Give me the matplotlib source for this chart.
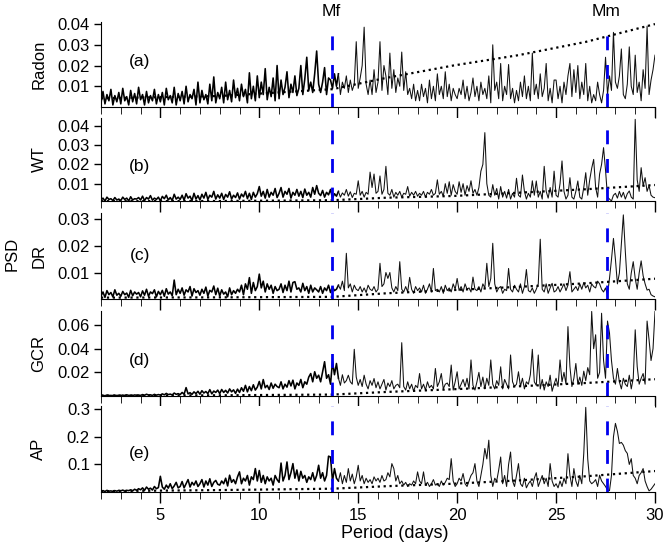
import numpy as np
import matplotlib.pyplot as plt
from matplotlib.transforms import blended_transform_factory

plt.rcParams['font.family'] = ['Liberation Sans', 'DejaVu Sans']

# period grid (days), 0.1 day steps from 2 to 30
period = np.round(np.arange(2.0, 30.05, 0.1), 1)

# PSD values, one row per day (x.0 ... x.9)
# radon, wt, dr, gcr in units of 1e-4 ; ap in units of 1e-3
radon = [
    20, 75, 15, 60, 30, 85, 10, 55, 25, 70,
    15, 90, 30, 50, 10, 80, 25, 65, 15, 95,
    35, 60, 10, 75, 20, 55, 30, 85, 15, 60,
    25, 70, 10, 90, 35, 55, 20, 95, 10, 65,
    30, 75, 15, 100, 25, 60, 40, 85, 10, 120,
    20, 80, 35, 60, 15, 110, 30, 145, 20, 70,
    40, 95, 20, 120, 35, 80, 25, 130, 45, 90,
    30, 110, 50, 85, 20, 165, 40, 100, 30, 150,
    45, 120, 60, 185, 35, 95, 50, 140, 30, 200,
    40, 130, 60, 95, 170, 45, 110, 70, 150, 55,
    90, 200, 60, 135, 240, 80, 120, 70, 160, 270,
    110, 70, 120, 190, 60, 140, 130, 90, 160, 100,
    160, 60, 120, 90, 150, 70, 130, 80, 110, 315,
    90, 140, 200, 385, 110, 60, 130, 60, 180, 70,
    120, 315, 80, 200, 150, 60, 260, 90, 180, 70,
    140, 100, 265, 80, 170, 60, 90, 40, 110, 30,
    80, 30, 110, 50, 90, 20, 130, 40, 100, 30,
    160, 60, 100, 40, 170, 50, 110, 30, 90, 60,
    40, 90, 60, 130, 40, 100, 30, 70, 140, 50,
    100, 30, 120, 60, 90, 40, 150, 20, 300, 80,
    120, 40, 210, 30, 100, 60, 205, 40, 90, 20,
    80, 30, 120, 50, 150, 40, 100, 30, 260, 60,
    110, 40, 160, 50, 90, 210, 30, 90, 20, 130,
    130, 40, 100, 20, 120, 60, 150, 210, 50, 180,
    70, 200, 40, 120, 60, 210, 30, 100, 20, 60,
    30, 120, 60, 20, 80, 240, 60, 150, 80, 360,
    120, 90, 150, 280, 60, 40, 110, 290, 100, 60,
    250, 70, 120, 30, 180, 90, 390, 60, 130, 180,
    250,
]

wt = [
    15, 25, 10, 30, 18, 22, 12, 28, 15, 20,
    12, 30, 18, 25, 10, 32, 15, 22, 20, 28,
    15, 35, 12, 28, 20, 38, 14, 25, 18, 30,
    10, 34, 22, 40, 15, 28, 12, 45, 20, 30,
    18, 40, 14, 48, 25, 35, 12, 50, 20, 38,
    15, 45, 25, 55, 18, 40, 30, 60, 20, 42,
    25, 50, 18, 44, 30, 58, 20, 40, 28, 52,
    20, 46, 32, 60, 22, 50, 18, 55, 30, 48,
    85, 35, 60, 25, 70, 30, 55, 40, 75, 28,
    50, 80, 30, 60, 45, 75, 25, 55, 40, 70,
    35, 60, 28, 72, 40, 55, 30, 80, 45, 90,
    50, 38, 65, 30, 55, 42, 70, 25, 48, 35,
    60, 30, 52, 40, 70, 35, 58, 28, 50, 45,
    115, 40, 60, 30, 55, 45, 160, 80, 150, 50,
    60, 140, 45, 70, 190, 50, 40, 70, 30, 55,
    40, 60, 30, 50, 45, 85, 35, 55, 40, 60,
    35, 50, 40, 60, 30, 55, 45, 70, 40, 50,
    120, 45, 60, 35, 100, 50, 110, 40, 95, 60,
    45, 110, 55, 100, 40, 90, 60, 115, 50, 70,
    40, 80, 165, 200, 365, 100, 40, 30, 95, 40,
    75, 20, 85, 30, 60, 25, 70, 20, 50, 30,
    128, 40, 30, 145, 60, 20, 50, 30, 115, 40,
    114, 30, 60, 20, 190, 60, 25, 80, 30, 165,
    40, 30, 100, 218, 60, 20, 40, 131, 30, 20,
    60, 114, 30, 20, 80, 157, 40, 120, 180, 226,
    80, 30, 150, 200, 287, 170, 30, 20, 10, 40,
    50, 25, 60, 30, 55, 20, 48, 62, 30, 20,
    434, 120, 60, 183, 90, 131, 60, 90, 40, 30,
    27,
]

dr = [
    15, 30, 10, 35, 20, 28, 12, 38, 18, 25,
    14, 32, 20, 26, 10, 36, 16, 30, 22, 28,
    12, 34, 18, 40, 14, 30, 24, 38, 12, 32,
    20, 36, 14, 42, 22, 30, 16, 74, 20, 40,
    25, 45, 18, 38, 30, 50, 15, 42, 28, 35,
    18, 40, 25, 48, 15, 36, 30, 52, 20, 44,
    15, 38, 22, 30, 12, 45, 20, 35, 25, 40,
    30, 55, 20, 60, 40, 83, 25, 65, 35, 50,
    96, 45, 70, 30, 60, 40, 55, 25, 50, 35,
    40, 60, 28, 55, 35, 70, 30, 65, 68, 40,
    45, 30, 62, 35, 50, 25, 55, 30, 45, 38,
    30, 50, 25, 45, 35, 55, 28, 48, 35, 40,
    55, 40, 70, 35, 173, 45, 60, 30, 55, 40,
    35, 50, 30, 45, 28, 55, 40, 35, 50, 30,
    40, 136, 50, 60, 102, 80, 102, 45, 30, 50,
    35, 142, 40, 30, 50, 30, 84, 40, 25, 50,
    35, 45, 30, 55, 25, 40, 60, 30, 117, 35,
    40, 30, 50, 25, 55, 35, 45, 30, 60, 40,
    80, 35, 50, 30, 60, 40, 45, 30, 85, 40,
    35, 50, 30, 60, 45, 136, 50, 80, 210, 60,
    30, 45, 50, 25, 40, 35, 117, 40, 30, 55,
    40, 30, 60, 25, 50, 113, 35, 30, 45, 25,
    40, 60, 225, 40, 30, 60, 25, 45, 62, 30,
    35, 50, 30, 45, 60, 35, 55, 105, 30, 40,
    50, 35, 60, 40, 65, 45, 55, 30, 60, 50,
    45, 70, 60, 40, 30, 45, 20, 80, 150, 228,
    150, 60, 100, 210, 315, 180, 60, 40, 100, 142,
    80, 40, 100, 145, 90, 60, 37, 40, 20, 15,
    12,
]

gcr = [
    3, 6, 2, 8, 4, 5, 3, 7, 4, 6,
    4, 8, 3, 10, 5, 7, 4, 9, 6, 8,
    5, 12, 6, 15, 8, 10, 5, 14, 7, 12,
    8, 18, 10, 22, 12, 16, 9, 25, 14, 20,
    12, 30, 15, 71, 18, 28, 14, 35, 20, 40,
    15, 45, 25, 38, 20, 54, 18, 42, 30, 50,
    20, 55, 30, 48, 25, 60, 35, 52, 22, 58,
    30, 70, 40, 90, 35, 80, 45, 95, 50, 75,
    123, 60, 139, 70, 90, 55, 110, 65, 100, 80,
    70, 120, 60, 100, 75, 130, 85, 134, 60, 110,
    90, 140, 70, 120, 100, 160, 190, 120, 205, 150,
    176, 120, 204, 290, 150, 180, 100, 290, 180, 275,
    150, 90, 180, 110, 130, 176, 120, 100, 395, 160,
    90, 140, 80, 176, 100, 60, 130, 90, 148, 70,
    120, 60, 100, 140, 50, 110, 80, 130, 60, 90,
    100, 70, 451, 80, 50, 120, 60, 100, 40, 90,
    70, 190, 60, 100, 50, 120, 70, 90, 60, 233,
    80, 120, 190, 60, 100, 110, 80, 262, 50, 120,
    205, 60, 100, 140, 80, 150, 60, 305, 90, 50,
    120, 200, 80, 160, 60, 150, 90, 305, 100, 60,
    130, 90, 247, 60, 140, 100, 60, 347, 120, 80,
    100, 205, 80, 150, 60, 120, 100, 180, 395, 120,
    90, 347, 60, 140, 50, 120, 80, 176, 40, 100,
    150, 80, 305, 120, 200, 100, 587, 250, 80, 150,
    275, 100, 160, 90, 210, 130, 240, 180, 715, 400,
    518, 150, 200, 700, 300, 150, 634, 532, 300, 150,
    100, 233, 120, 60, 150, 100, 80, 176, 60, 150,
    560, 250, 100, 150, 190, 100, 634, 475, 300, 400,
    715,
]

ap = [
    3, 5, 2, 6, 3, 4, 2, 5, 3, 6,
    4, 7, 3, 6, 5, 8, 4, 10, 6, 12,
    8, 15, 6, 18, 10, 14, 7, 20, 12, 16,
    57, 18, 10, 25, 14, 30, 12, 22, 35, 15,
    20, 38, 15, 30, 45, 18, 35, 25, 40, 20,
    30, 45, 18, 40, 25, 48, 20, 35, 42, 28,
    25, 40, 30, 50, 22, 61, 35, 45, 30, 55,
    73, 30, 50, 40, 60, 25, 55, 45, 85, 40,
    78, 35, 60, 30, 55, 40, 50, 25, 60, 45,
    35, 105, 40, 60, 109, 45, 70, 103, 50, 80,
    40, 75, 50, 60, 35, 55, 45, 70, 40, 60,
    97, 50, 70, 40, 60, 130, 127, 40, 85, 50,
    40, 70, 30, 60, 35, 85, 40, 65, 30, 55,
    97, 40, 60, 30, 50, 35, 45, 30, 55, 40,
    50, 35, 60, 40, 45, 70, 55, 103, 85, 40,
    60, 30, 40, 25, 35, 20, 30, 25, 40, 30,
    73, 40, 30, 73, 25, 35, 20, 30, 45, 25,
    30, 20, 40, 25, 35, 50, 45, 121, 40, 20,
    30, 50, 40, 67, 30, 20, 40, 60, 70, 103,
    40, 20, 60, 100, 158, 120, 188, 60, 20, 50,
    40, 80, 127, 30, 60, 20, 100, 145, 40, 20,
    60, 103, 30, 20, 50, 15, 30, 40, 20, 50,
    70, 20, 40, 60, 30, 50, 20, 103, 40, 20,
    30, 15, 40, 20, 50, 30, 139, 60, 20, 85,
    40, 20, 60, 30, 140, 307, 120, 40, 30, 36,
    45, 20, 61, 40, 30, 20, 7, 5, 60, 200,
    249, 220, 176, 180, 170, 150, 140, 100, 121, 60,
    50, 30, 60, 70, 85, 40, 20, 4, 10, 20,
    30,
]

# red-noise reference (dotted) curves
trend_days = [2, 8, 13.7, 16.4, 19.8, 23.1, 26.5, 30]
radon_trend = [0.0042, 0.0053, 0.0086, 0.0140, 0.0200, 0.0250, 0.0314, 0.0400]
wt_trend = [0.0009, 0.0010, 0.0014, 0.0027, 0.0036, 0.0053, 0.0071, 0.0093]
dr_trend = [0.0009, 0.0010, 0.0012, 0.0025, 0.0037, 0.0049, 0.0062, 0.0079]
gcr_trend = [0.0003, 0.0006, 0.0012, 0.0034, 0.0057, 0.0082, 0.0110, 0.0142]
ap_trend = [0.003, 0.007, 0.012, 0.021, 0.030, 0.042, 0.057, 0.076]

mf, mm = 13.66, 27.55

panels = [
    ('Radon', '(a)', radon, 1e-4, radon_trend, (0, 0.041), [0.01, 0.02, 0.03, 0.04], 0.53),
    ('WT', '(b)', wt, 1e-4, wt_trend, (0.001, 0.0441), [0.01, 0.02, 0.03, 0.04], 0.41),
    ('DR', '(c)', dr, 1e-4, dr_trend, (0.0004, 0.0322), [0.01, 0.02, 0.03], 0.51),
    ('GCR', '(d)', gcr, 1e-4, gcr_trend, (0, 0.0719), [0.02, 0.04, 0.06], 0.42),
    ('AP', '(e)', ap, 1e-3, ap_trend, (0, 0.312), [0.1, 0.2, 0.3], 0.45),
]

# axes boxes in pixels (top, bottom) of a 666x548 figure
boxes = [(22, 107), (118, 201), (213, 299), (311, 396), (406, 492)]
W, H = 666, 548
left, right = 101, 655

fig = plt.figure(figsize=(W / 100, H / 100), dpi=100)
axes = []
for (name, tag, vals, unit, trend, ylim, yt, tag_y), (top, bot) in zip(panels, boxes):
    ax = fig.add_axes([left / W, 1 - bot / H, (right - left) / W, (bot - top) / H])
    n = min(len(period), len(vals))
    psd = np.array(vals[:n]) * unit
    # dense short-period part drawn a bit heavier, like the original band
    cut = 121
    ax.plot(period[:cut], psd[:cut], color='black', lw=1.15)
    ax.plot(period[cut - 1:n], psd[cut - 1:], color='#111111', lw=0.75)
    ax.plot(trend_days, trend, color='black', ls=':', lw=1.6)
    for p in (mf, mm):
        ax.axvline(p, color='#0000ee', lw=2, ls=(0, (5, 5.3)))
    ax.set_xlim(2, 30)
    ax.set_ylim(*ylim)
    ax.set_yticks(yt)
    ax.set_yticklabels([f'{t:g}' for t in yt])
    ax.set_xticks([5, 10, 15, 20, 25, 30])
    ax.set_xticks(range(2, 31), minor=True)
    ax.tick_params(axis='both', direction='out', labelsize=12, width=1)
    ax.tick_params(axis='x', which='major', length=8)
    ax.tick_params(axis='x', which='minor', length=5)
    ax.tick_params(axis='y', length=5, pad=3)
    for s in ('top', 'right'):
        ax.spines[s].set_visible(False)
    ax.text(-0.112, 0.5, name, transform=ax.transAxes, rotation=90,
            ha='center', va='center', fontsize=12)
    ax.text(0.07, tag_y, tag, transform=ax.transAxes, ha='center', va='center',
            fontsize=12.5)
    if name != 'AP':
        ax.tick_params(axis='x', labelbottom=False)
    axes.append(ax)

tr = blended_transform_factory(axes[0].transData, fig.transFigure)
axes[0].text(mf, 1 - 12 / H, 'Mf', transform=tr, ha='center', va='center', fontsize=12.5)
axes[0].text(mm, 1 - 12 / H, 'Mm', transform=tr, ha='center', va='center', fontsize=12.5)

fig.text(12 / W, 1 - 254 / H, 'PSD', rotation=90, ha='center', va='center', fontsize=12)
fig.text(395 / W, 1 - 533 / H, 'Period (days)', ha='center', va='center', fontsize=13)

fig.savefig('out.png', dpi=100)
